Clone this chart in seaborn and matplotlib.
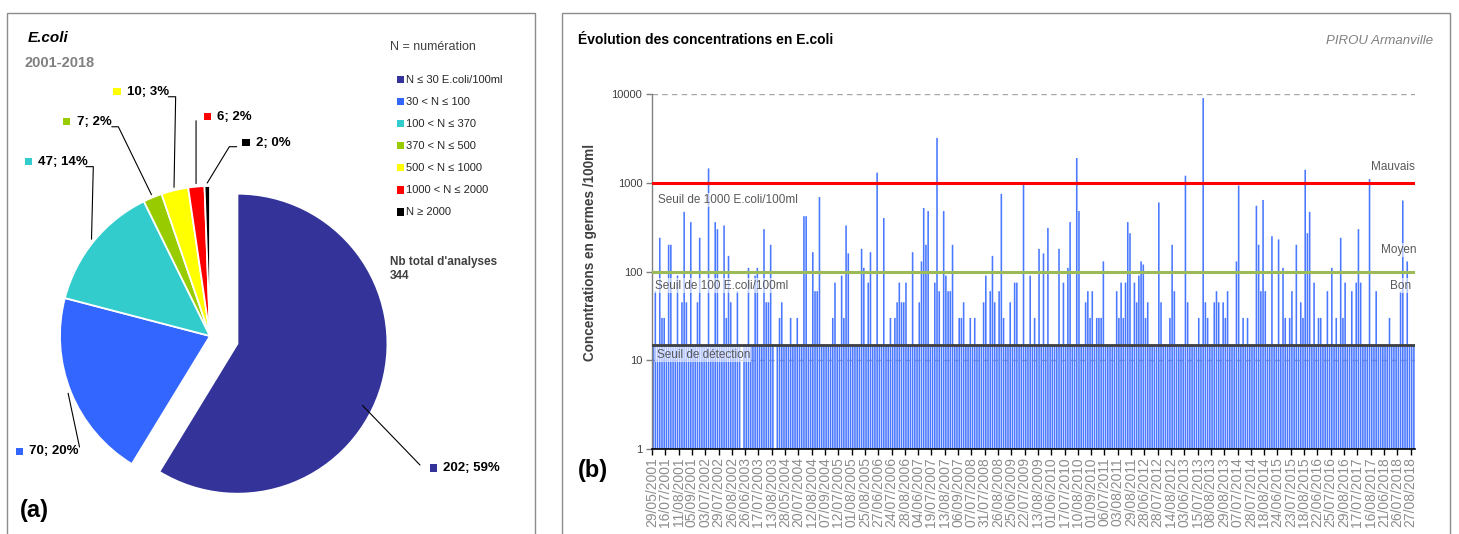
import numpy as np
import pandas as pd
import matplotlib
matplotlib.use("Agg")
import matplotlib.pyplot as plt
from matplotlib.patches import Rectangle
from matplotlib.ticker import NullLocator, FixedLocator
import seaborn as sns

# ---------------- data ----------------
pie_categories = ["N ≤ 30 E.coli/100ml", "30 < N ≤ 100", "100 < N ≤ 370", "370 < N ≤ 500",
                  "500 < N ≤ 1000", "1000 < N ≤ 2000", "N ≥ 2000"]
pie_counts = [202, 70, 47, 7, 10, 6, 2]
pie_percent_labels = ["59%", "20%", "14%", "2%", "3%", "2%", "0%"]
pie_colors = ["#333399", "#3366FF", "#33CCCC", "#99CC00", "#FFFF00", "#FF0000", "#000000"]
total_analyses = 344

nan = np.nan
concentrations = [
    15, 60, 15, 240, 30, 30, 15, 200, 200, 15, 15, 90, 15, 45, 470, 45, 15, 360, 15, 15,
    45, 240, 15, 15, 15, 1450, 15, 15, 360, 300, 15, 15, 330, 30, 150, 45, 15, 15, 60, 15,
    nan, 15, 15, 110, 15, 15, 90, 110, 15, 15, 300, 45, 45, 200, 15, nan, 15, 30, 45, 15,
    15, 15, 30, 15, 15, 30, 15, 15, 420, 420, 15, 15, 165, 60, 60, 690, 15, 15, 15, 15,
    15, 30, 75, 15, 15, 90, 30, 330, 160, 15, 15, 15, 15, 15, 180, 110, 15, 75, 165, 15,
    15, 1300, 15, 15, 400, 15, 15, 30, 15, 30, 45, 75, 45, 45, 75, 15, 15, 165, 15, 15,
    45, 130, 520, 200, 480, 15, 15, 75, 3200, 60, 15, 480, 90, 60, 60, 200, 15, 15, 30, 30,
    45, 15, 15, 30, 15, 30, 15, 15, 15, 45, 90, 15, 60, 150, 45, 15, 60, 750, 30, 15,
    15, 45, 15, 75, 75, 15, 15, 950, 15, 15, 90, 15, 30, 15, 180, 15, 160, 15, 310, 15,
    15, 15, 15, 180, 15, 75, 15, 110, 360, 15, 15, 1900, 480, 15, 15, 45, 60, 30, 60, 15,
    30, 30, 30, 130, 15, 15, 15, 15, 15, 60, 30, 75, 30, 75, 360, 270, 15, 75, 45, 90,
    130, 120, 30, 45, 15, 15, 15, 15, 600, 45, 15, 15, 15, 30, 200, 60, 15, 15, 15, 15,
    1200, 45, 15, 15, 15, 15, 30, 15, 9000, 45, 30, 15, 15, 45, 60, 45, 15, 45, 30, 60,
    15, 15, 15, 130, 930, 15, 30, 15, 30, 15, 15, 15, 550, 200, 60, 640, 60, 15, 15, 250,
    15, 15, 230, 15, 110, 30, 15, 30, 60, 15, 200, 15, 45, 30, 1400, 270, 470, 15, 75, 15,
    30, 30, 15, 15, 60, 15, 110, 15, 30, 15, 240, 30, 75, 15, 15, 60, 15, 75, 300, 75,
    15, 15, 15, 1100, 15, 15, 60, 15, 15, 15, 15, 15, 30, 15, 15, 15, 15, 60, 630, 15,
    130, 15, 15, 15,
]

date_tick_labels = [
    "29/05/2001", "16/07/2001", "11/08/2001", "05/09/2001", "03/07/2002", "29/07/2002",
    "26/08/2002", "26/06/2003", "17/07/2003", "13/08/2003", "28/05/2004", "20/07/2004",
    "12/08/2004", "07/09/2004", "12/07/2005", "01/08/2005", "25/08/2005", "27/06/2006",
    "24/07/2006", "28/08/2006", "04/06/2007", "19/07/2007", "13/08/2007", "06/09/2007",
    "07/07/2008", "31/07/2008", "26/08/2008", "25/06/2009", "22/07/2009", "13/08/2009",
    "01/06/2010", "17/07/2010", "10/08/2010", "01/09/2010", "06/07/2011", "03/08/2011",
    "29/08/2011", "28/06/2012", "28/07/2012", "14/08/2012", "03/06/2013", "15/07/2013",
    "08/08/2013", "29/08/2013", "07/07/2014", "28/07/2014", "18/08/2014", "24/06/2015",
    "23/07/2015", "18/08/2015", "22/06/2016", "25/07/2016", "29/08/2016", "17/07/2017",
    "16/08/2017", "21/06/2018", "26/07/2018", "27/08/2018",
]
tick_step = 6

threshold_bad = 1000
threshold_medium = 100
detection_limit = 15
y_ticks = [1, 10, 100, 1000, 10000]
axis_floor = 1

# ---------------- style ----------------
sns.set_style("white")
plt.rcParams["font.family"] = ["Liberation Sans", "DejaVu Sans"]

W, H = 1459, 534
fig = plt.figure(figsize=(W / 100, H / 100), dpi=100)
fig.patch.set_facecolor("white")

# panel frames
for (x0, x1) in [(7, 535), (562, 1450)]:
    fig.add_artist(Rectangle((x0 / W, -0.02), (x1 - x0) / W, 1.02 - 13 / H,
                             transform=fig.transFigure, fill=False,
                             edgecolor="#8C8C8C", linewidth=1.0, zorder=0))

# ================= (a) pie =================
axp = fig.add_axes([0, 0, 540 / W, 1])
explode = [0.19, 0, 0, 0, 0, 0, 0]
wedges, _ = axp.pie(pie_counts, colors=pie_colors, startangle=90, counterclock=False,
                    explode=explode, radius=1.0,
                    wedgeprops=dict(edgecolor="white", linewidth=1.3))
axp.set_xlim(-1.4, 2.2)
axp.set_ylim(-1.32, 2.24)
axp.set_aspect("equal", adjustable="box")
axp.axis("off")

label_sq = [(1.487, -0.88), (-1.273, -0.767), (-1.211, 1.162), (-0.955, 1.429),
            (-0.62, 1.629), (-0.018, 1.462), (0.24, 1.289)]
leader_knees = [[(1.40, -0.86)], [(-0.87, -0.74)],
                [(-0.827, 1.129), (-0.778, 1.129)],
                [(-0.655, 1.395), (-0.611, 1.395)],
                [(-0.278, 1.595), (-0.229, 1.595)],
                [(-0.093, 1.435)],
                [(0.178, 1.262), (0.129, 1.262)]]
leader_frac = [0.45, 0.5, 0.5, 0.5, 0.5, 0.5, 0.5]
leader_r = [0.93, 1.02, 1.02, 1.02, 1.02, 1.02, 1.02]
sq = 0.047
for i, w in enumerate(wedges):
    ang = np.deg2rad(w.theta1 + leader_frac[i] * (w.theta2 - w.theta1))
    cx, cy = w.center
    end = (cx + leader_r[i] * w.r * np.cos(ang), cy + leader_r[i] * w.r * np.sin(ang))
    pts = leader_knees[i] + [end]
    axp.plot([p[0] for p in pts], [p[1] for p in pts], color="black", lw=0.8, zorder=5,
             clip_on=False)
    sx, sy = label_sq[i]
    axp.add_patch(Rectangle((sx - sq / 2, sy - sq / 2), sq, sq, facecolor=pie_colors[i],
                            edgecolor="none", clip_on=False))
    axp.text(sx + 0.065, sy, f"{pie_counts[i]}; {pie_percent_labels[i]}", fontsize=9.5,
             fontweight="bold", va="center", ha="left", color="black")

axp.text(-1.213, 1.987, "E.coli", fontsize=11, fontweight="bold", fontstyle="italic",
         va="center", ha="left", color="black")
axp.text(-1.24, 1.82, "2001-2018", fontsize=10.5, fontweight="bold", va="center",
         ha="left", color="#808080")
axp.text(1.2, 1.927, "N = numération", fontsize=9, va="center", ha="left", color="#404040")
for i, lab in enumerate(pie_categories):
    yy = 1.707 - i * 0.1467
    axp.add_patch(Rectangle((1.267 - sq / 2, yy - sq / 2), sq, sq,
                            facecolor=pie_colors[i], edgecolor="none"))
    axp.text(1.307, yy, lab, fontsize=8, va="center", ha="left", color="#262626")
axp.text(1.2, 0.493, "Nb total d'analyses", fontsize=8.5, fontweight="bold",
         va="center", ha="left", color="#404040")
axp.text(1.2, 0.40, str(total_analyses), fontsize=8.5, fontweight="bold",
         va="center", ha="left", color="#404040")
axp.text(-1.267, -1.16, "(a)", fontsize=17, fontweight="bold", va="center", ha="left",
         color="black")

# ================= (b) bars =================
ax = fig.add_axes([652 / W, (H - 449) / H, 763 / W, 355 / H])
df = pd.DataFrame({"sample": np.arange(len(concentrations)), "conc": concentrations})
sns.barplot(data=df, x="sample", y="conc", order=list(range(len(concentrations))),
            color="#3366FF", saturation=1, width=0.72, linewidth=0, edgecolor="none",
            errorbar=None, ax=ax)
ax.set_yscale("log")
# start every bar at the bottom of the log axis instead of 0
for p in ax.patches:
    top = p.get_y() + p.get_height()
    p.set_y(axis_floor)
    p.set_height(top - axis_floor)
    p.set_edgecolor("none")
    p.set_linewidth(0)
    p.set_facecolor("#4A78FF")
    p.set_snap(False)
ax.set_ylim(1, 10000)
ax.set_xlim(-0.5, len(concentrations) - 0.5)
ax.yaxis.set_major_locator(FixedLocator(y_ticks))
ax.yaxis.set_minor_locator(NullLocator())
ax.set_yticklabels([str(v) for v in y_ticks])
ax.set_xticks(np.arange(len(date_tick_labels)) * tick_step - 0.5)
ax.set_xticklabels(date_tick_labels, rotation=90)
ax.set_xlabel("")
ax.set_ylabel("")
ax.yaxis.grid(True, color="#A6A6A6", linestyle=(0, (4, 3)), linewidth=1)
ax.xaxis.grid(False)
ax.set_axisbelow(True)
ax.patch.set_alpha(0)
for s in ["top", "right"]:
    ax.spines[s].set_visible(False)
ax.spines["left"].set_color("#808080")
ax.spines["left"].set_linewidth(1)
ax.spines["bottom"].set_color("black")
ax.spines["bottom"].set_linewidth(1.2)
ax.tick_params(axis="y", which="major", length=4, width=1, color="#808080",
               labelsize=8, labelcolor="#404040", left=True, pad=3)
ax.tick_params(axis="x", which="major", length=4, width=1, color="black",
               labelsize=10, labelcolor="#8C8C8C", bottom=True, pad=2)

ax.axhline(threshold_bad, color="#FF0000", lw=2.2, zorder=4)
ax.axhline(threshold_medium, color="#9BBB59", lw=2.2, zorder=4)
ax.axhline(detection_limit, color="#404040", lw=2.0, zorder=4)

tr = ax.get_yaxis_transform()
bbox = dict(facecolor="white", alpha=0.6, edgecolor="none", pad=1)
ax.text(0.008, 640, "Seuil de 1000 E.coli/100ml", transform=tr, fontsize=8.5,
        color="#595959", va="center", ha="left", bbox=bbox, zorder=6)
ax.text(0.004, 69, "Seuil de 100 E.coli/100ml", transform=tr, fontsize=8.5,
        color="#595959", va="center", ha="left", bbox=bbox, zorder=6)
ax.text(0.006, 11.5, "Seuil de détection", transform=tr, fontsize=8.5,
        color="#595959", va="center", ha="left", bbox=bbox, zorder=6)
ax.text(1.0, 1500, "Mauvais", transform=tr, fontsize=8.5, color="#595959",
        va="center", ha="right", bbox=bbox, zorder=6)
ax.text(1.002, 175, "Moyen", transform=tr, fontsize=8.5, color="#595959",
        va="center", ha="right", bbox=bbox, zorder=6)
ax.text(0.995, 69, "Bon", transform=tr, fontsize=8.5, color="#595959",
        va="center", ha="right", bbox=bbox, zorder=6)

fig.text(578 / W, 1 - 40 / H, "Évolution des concentrations en E.coli", fontsize=10,
         fontweight="bold", va="center", ha="left", color="black")
fig.text(1433 / W, 1 - 41 / H, "PIROU Armanville", fontsize=9.5, fontstyle="italic",
         va="center", ha="right", color="#808080")
fig.text(590 / W, 1 - 252 / H, "Concentrations en germes /100ml", fontsize=9.8,
         fontweight="bold", rotation=90, va="center", ha="center", color="#404040")
fig.text(578 / W, 1 - 470 / H, "(b)", fontsize=17, fontweight="bold", va="center",
         ha="left", color="black")

fig.savefig("out.png", dpi=100, facecolor="white")
